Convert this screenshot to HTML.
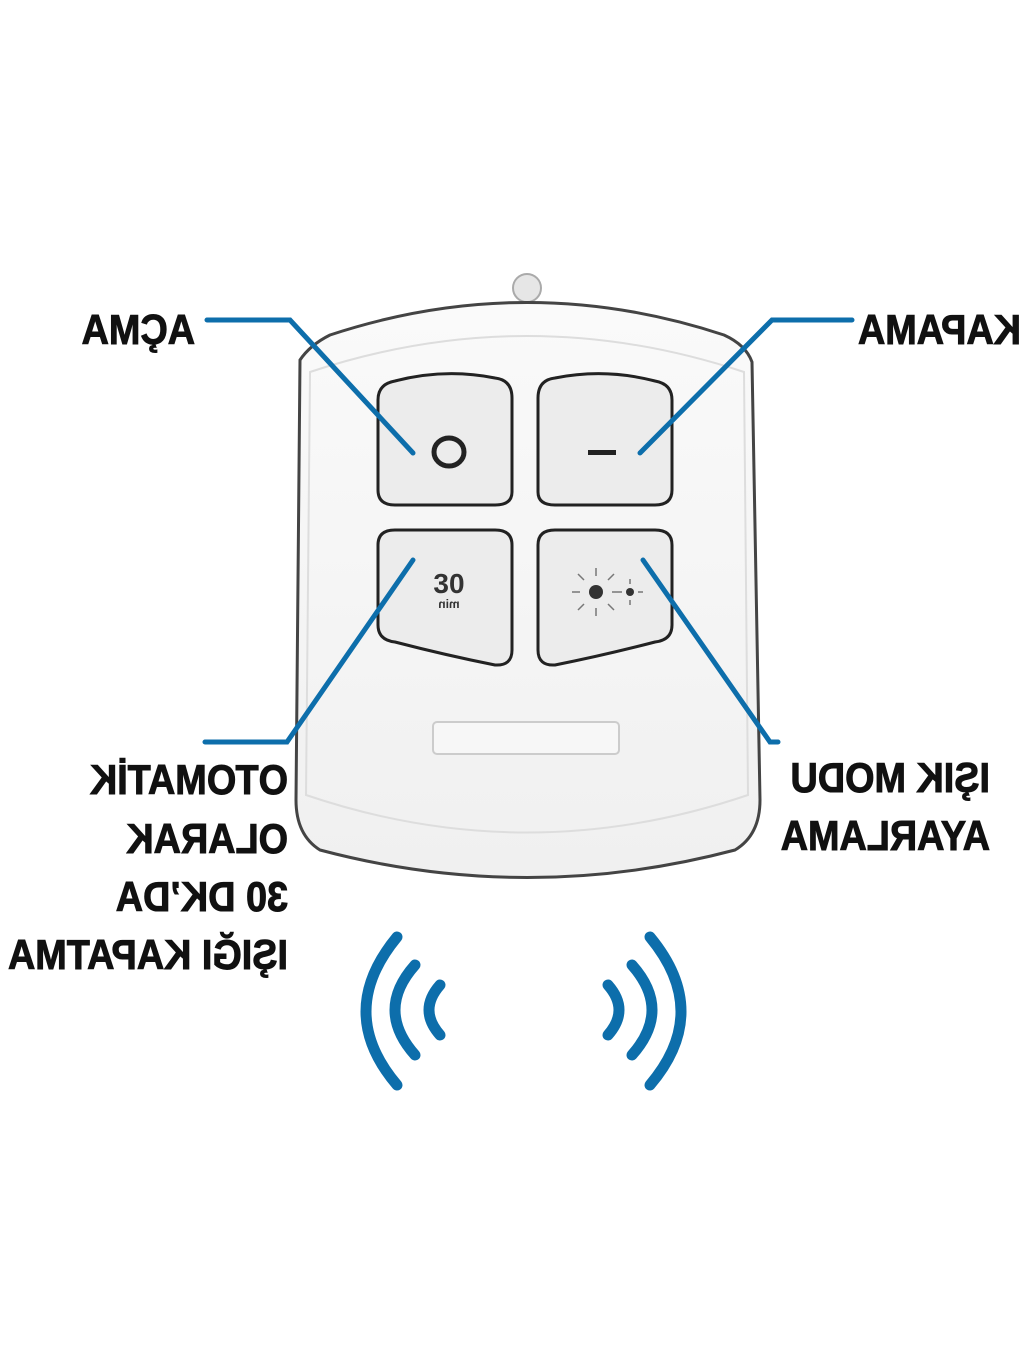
<!DOCTYPE html>
<html><head><meta charset="utf-8"><style>
body{margin:0;background:#fff;}
#c{position:relative;width:1024px;height:1365px;overflow:hidden;background:#fff;}
.t{position:absolute;font-family:"Liberation Sans",sans-serif;font-weight:bold;font-size:42px;color:#111;-webkit-text-stroke:1px #111;transform-origin:0 0;transform:scaleX(-0.9);white-space:nowrap;line-height:1;}
</style></head><body><div id="c">
<svg width="1024" height="1365" style="position:absolute;left:0;top:0">
<defs><linearGradient id="g" x1="0" y1="0" x2="0" y2="1"><stop offset="0" stop-color="#fafafa"/><stop offset="1" stop-color="#f0f0f0"/></linearGradient></defs>
<ellipse cx="527" cy="288" rx="14" ry="14" fill="#e6e6e6" stroke="#aaa" stroke-width="2"/>
<path d="M300 360 Q310 345 330 335 Q527 270 724 335 Q746 345 752 362 L760 800 Q760 835 735 850 Q527 905 320 850 Q296 835 296 800 Z" fill="url(#g)" stroke="#444" stroke-width="3"/>
<path d="M310 372 Q527 300 744 372 L748 795 Q527 870 306 795 Z" fill="none" stroke="#ddd" stroke-width="2"/>
<g fill="#ececec" stroke="#222" stroke-width="3">
<path d="M395 381 Q445 368 495 378 Q512 380 512 398 L512 492 Q512 505 495 505 L395 505 Q378 505 378 490 L378 400 Q378 384 395 381 Z"/>
<path d="M555 378 Q605 368 655 381 Q672 384 672 400 L672 490 Q672 505 655 505 L555 505 Q538 505 538 492 L538 398 Q538 380 555 378 Z"/>
<path d="M395 530 L495 530 Q512 530 512 545 L512 650 Q512 666 495 665 Q445 655 395 642 Q378 640 378 625 L378 545 Q378 530 395 530 Z"/>
<path d="M555 530 L655 530 Q672 530 672 545 L672 625 Q672 640 655 642 Q605 655 555 665 Q538 666 538 650 L538 545 Q538 530 555 530 Z"/>
</g>
<rect x="433" y="722" width="186" height="32" rx="4" fill="#f7f7f7" stroke="#ccc" stroke-width="2"/>
<ellipse cx="449" cy="452" rx="15" ry="14" fill="none" stroke="#222" stroke-width="5"/>
<rect x="588" y="450" width="28" height="5" fill="#222"/>
<circle cx="596" cy="592" r="7" fill="#333"/><circle cx="630" cy="592" r="4" fill="#333"/>
<g stroke="#777" stroke-width="1.5"><path d="M580 592h-8M612 592h8M596 576v-8M596 608v8M584 580l-6-6M608 580l6-6M584 604l-6 6M608 604l6 6M622 592h-5M638 592h5M630 584v-5M630 600v5"/></g>
<g fill="none" stroke="#0d6eab" stroke-width="5" stroke-linecap="round">
<path d="M207 320 L290 320 L413 453"/>
<path d="M640 453 L772 320 L852 320"/>
<path d="M413 560 L287 742 L205 742"/>
<path d="M643 560 L770 742 L778 742"/>
</g>
<g fill="none" stroke="#0d6eab" stroke-width="11" stroke-linecap="round">
<path d="M397 937 Q335 1012 397 1085"/>
<path d="M415 965 Q375 1010 415 1055"/>
<path d="M440 985 Q418 1010 440 1035"/>
<path d="M650 937 Q712 1012 650 1085"/>
<path d="M632 965 Q672 1010 632 1055"/>
<path d="M608 985 Q630 1010 608 1035"/>
</g>
</svg>
<div style="position:absolute;left:421px;top:570px;width:56px;text-align:center;font-family:'Liberation Sans',sans-serif;font-weight:bold;color:#333;line-height:1"><div style="font-size:28px">30</div><div style="font-size:12px;transform:scaleX(-1)">min</div></div>
<div class="t" style="left:195px;top:309px">AÇMA</div>
<div class="t" style="left:1021px;top:309px">KAPAMA</div>
<div class="t" style="left:990px;top:757px">IŞIK MODU</div>
<div class="t" style="left:990px;top:815px">AYARLAMA</div>
<div class="t" style="left:288px;top:759px">OTOMATİK</div>
<div class="t" style="left:288px;top:818px">OLARAK</div>
<div class="t" style="left:288px;top:876px">30 DK’DA</div>
<div class="t" style="left:288px;top:934px">IŞIĞI KAPATMA</div>
</div></body></html>
